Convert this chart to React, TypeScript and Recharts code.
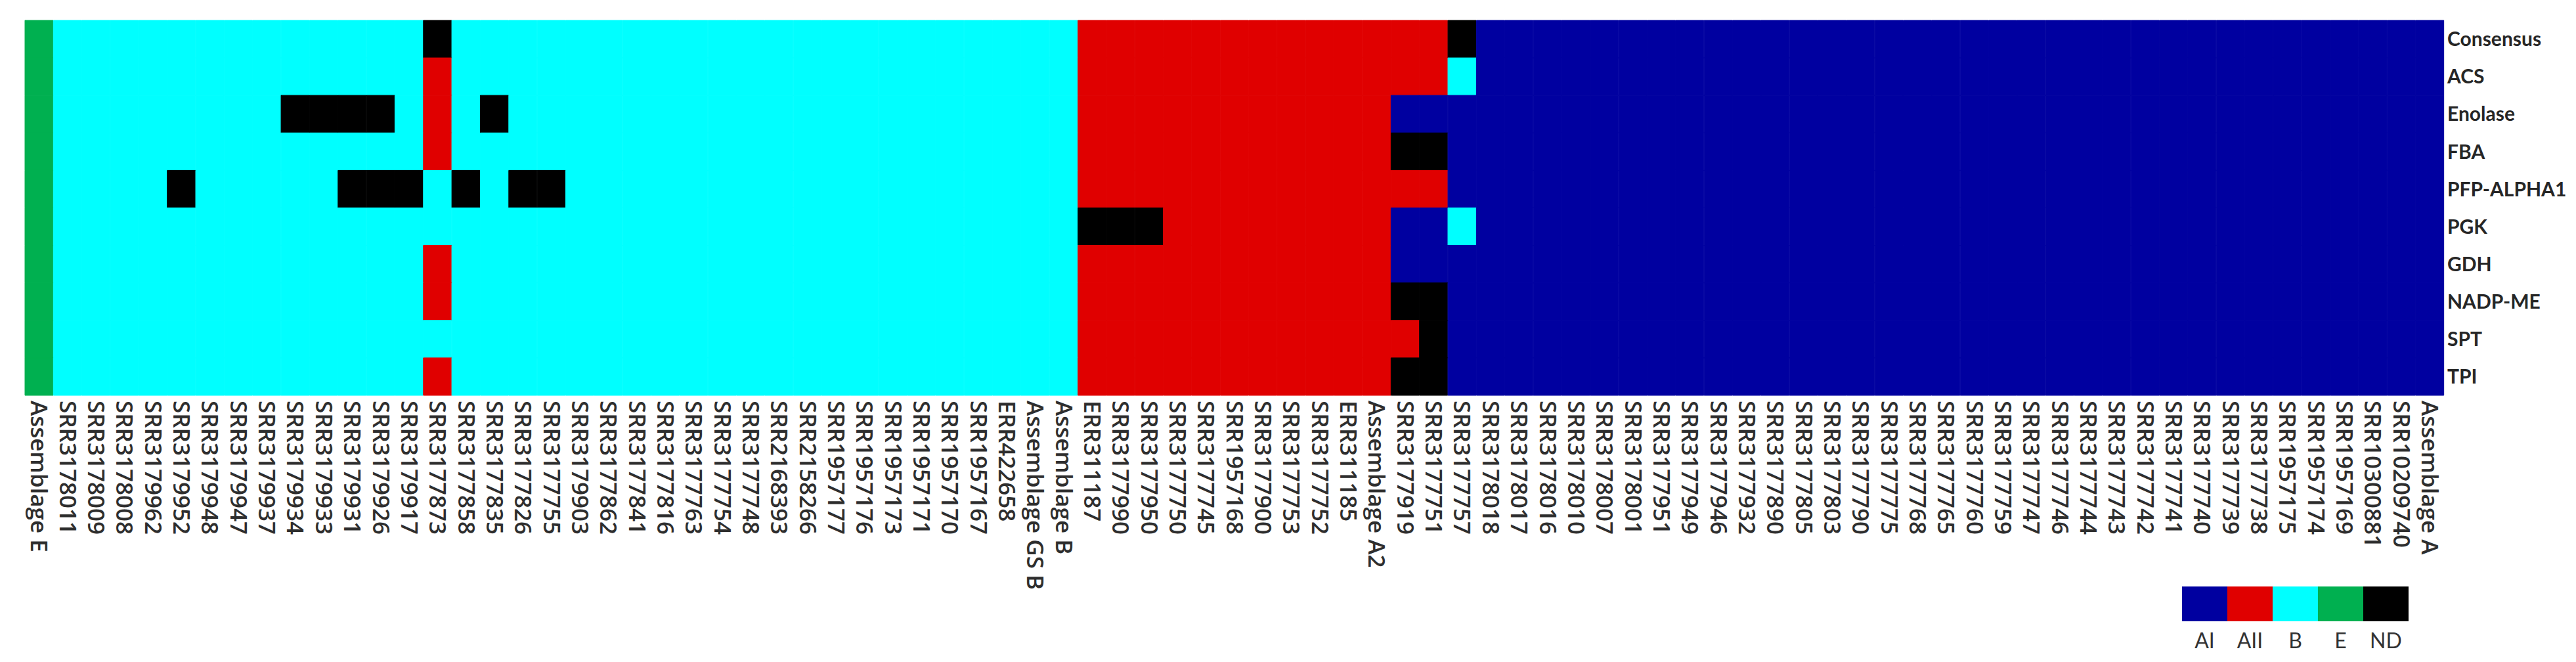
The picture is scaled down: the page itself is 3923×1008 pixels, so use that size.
import React from "react";
import { Bar, BarChart, Cell, Legend, XAxis, YAxis } from "recharts";

const samples = [
  "Assemblage E", "SRR3178011", "SRR3178009", "SRR3178008", "SRR3179962", "SRR3179952",
  "SRR3179948", "SRR3179947", "SRR3179937", "SRR3179934", "SRR3179933", "SRR3179931",
  "SRR3179926", "SRR3179917", "SRR3177873", "SRR3177858", "SRR3177835", "SRR3177826",
  "SRR3177755", "SRR3179903", "SRR3177862", "SRR3177841", "SRR3177816", "SRR3177763",
  "SRR3177754", "SRR3177748", "SRR2168393", "SRR2158266", "SRR1957177", "SRR1957176",
  "SRR1957173", "SRR1957171", "SRR1957170", "SRR1957167", "ERR422658", "Assemblage GS B",
  "Assemblage B", "ERR311187", "SRR3177990", "SRR3177950", "SRR3177750", "SRR3177745",
  "SRR1957168", "SRR3177900", "SRR3177753", "SRR3177752", "ERR311185", "Assemblage A2",
  "SRR3177919", "SRR3177751", "SRR3177757", "SRR3178018", "SRR3178017", "SRR3178016",
  "SRR3178010", "SRR3178007", "SRR3178001", "SRR3177951", "SRR3177949", "SRR3177946",
  "SRR3177932", "SRR3177890", "SRR3177805", "SRR3177803", "SRR3177790", "SRR3177775",
  "SRR3177768", "SRR3177765", "SRR3177760", "SRR3177759", "SRR3177747", "SRR3177746",
  "SRR3177744", "SRR3177743", "SRR3177742", "SRR3177741", "SRR3177740", "SRR3177739",
  "SRR3177738", "SRR1957175", "SRR1957174", "SRR1957169", "SRR10300881", "SRR10209740",
  "Assemblage A",
];

const genes = ["Consensus", "ACS", "Enolase", "FBA", "PFP-ALPHA1", "PGK", "GDH", "NADP-ME", "SPT", "TPI"];

// one letter per sample, blocks of 10: A = AI, R = AII, B, E, N = ND
const consensus = "EBBBBBBBBB BBBBNBBBBB BBBBBBBBBB BBBBBBBRRR RRRRRRRRRR NAAAAAAAAA AAAAAAAAAA AAAAAAAAAA AAAAA";
const acs       = "EBBBBBBBBB BBBBRBBBBB BBBBBBBBBB BBBBBBBRRR RRRRRRRRRR BAAAAAAAAA AAAAAAAAAA AAAAAAAAAA AAAAA";
const enolase   = "EBBBBBBBBN NNNBRBNBBB BBBBBBBBBB BBBBBBBRRR RRRRRRRRAA AAAAAAAAAA AAAAAAAAAA AAAAAAAAAA AAAAA";
const fba       = "EBBBBBBBBB BBBBRBBBBB BBBBBBBBBB BBBBBBBRRR RRRRRRRRNN AAAAAAAAAA AAAAAAAAAA AAAAAAAAAA AAAAA";
const pfp       = "EBBBBNBBBB BNNNBNBNNB BBBBBBBBBB BBBBBBBRRR RRRRRRRRRR AAAAAAAAAA AAAAAAAAAA AAAAAAAAAA AAAAA";
const pgk       = "EBBBBBBBBB BBBBBBBBBB BBBBBBBBBB BBBBBBBNNN RRRRRRRRAA BAAAAAAAAA AAAAAAAAAA AAAAAAAAAA AAAAA";
const gdh       = "EBBBBBBBBB BBBBRBBBBB BBBBBBBBBB BBBBBBBRRR RRRRRRRRAA AAAAAAAAAA AAAAAAAAAA AAAAAAAAAA AAAAA";
const nadpMe    = "EBBBBBBBBB BBBBRBBBBB BBBBBBBBBB BBBBBBBRRR RRRRRRRRNN AAAAAAAAAA AAAAAAAAAA AAAAAAAAAA AAAAA";
const spt       = "EBBBBBBBBB BBBBBBBBBB BBBBBBBBBB BBBBBBBRRR RRRRRRRRRN AAAAAAAAAA AAAAAAAAAA AAAAAAAAAA AAAAA";
const tpi       = "EBBBBBBBBB BBBBRBBBBB BBBBBBBBBB BBBBBBBRRR RRRRRRRRNN AAAAAAAAAA AAAAAAAAAA AAAAAAAAAA AAAAA";

const calls = [consensus, acs, enolase, fba, pfp, pgk, gdh, nadpMe, spt, tpi].map((s) =>
  s.replace(/ /g, "").split("")
);

const assemblages = ["AI", "AII", "B", "E", "ND"];
const codes = ["A", "R", "B", "E", "N"];
const colors: Record<string, string> = {
  A: "#0000A0",
  R: "#E00000",
  B: "#00FFFF",
  E: "#00B050",
  N: "#000000",
};

// each cell is one unit of a stacked bar
const data = samples.map((name) => {
  const row: Record<string, string | number> = { name };
  genes.forEach((g) => (row[g] = 1));
  return row;
});

function SampleTick(props: any) {
  const { x, y, payload } = props;
  return (
    <text
      x={x}
      y={y}
      dy="0.35em"
      transform={`rotate(90, ${x}, ${y})`}
      textAnchor="start"
      fill="#2e2e2e"
      fontFamily="'Open Sans', sans-serif"
      fontWeight={600}
      fontSize={35}
    >
      {payload.value}
    </text>
  );
}

function KeyBoxes() {
  return (
    <div style={{ display: "flex" }}>
      {assemblages.map((a, i) => (
        <div key={a} style={{ width: 69, textAlign: "center" }}>
          <div style={{ height: 53, background: colors[codes[i]] }} />
          <div
            style={{
              marginTop: 13,
              fontFamily: "Lato, sans-serif",
              fontSize: 32,
              lineHeight: "32px",
              color: "#333",
            }}
          >
            {a}
          </div>
        </div>
      ))}
    </div>
  );
}

export default function App() {
  return (
    <div style={{ width: 3907, height: 990 }}>
      <BarChart
        width={3907}
        height={990}
        data={data}
        margin={{ top: 23, left: 30, right: 0, bottom: 0 }}
        barCategoryGap={0}
        barGap={0}
      >
        <XAxis
          dataKey="name"
          interval={0}
          height={396}
          tickSize={0}
          tickMargin={8}
          axisLine={false}
          tick={<SampleTick />}
        />
        <YAxis
          type="number"
          orientation="right"
          width={193}
          domain={[0, 10]}
          reversed
          ticks={genes.map((_, i) => i + 0.5)}
          tickFormatter={(v: number) => genes[Math.floor(v)]}
          interval={0}
          tickSize={0}
          tickMargin={5}
          axisLine={false}
          tick={{ fill: "#262626", fontFamily: "Lato, sans-serif", fontWeight: 700, fontSize: 30 }}
        />
        {genes.map((g, i) => (
          <Bar key={g} dataKey={g} stackId="cells" isAnimationActive={false}>
            {calls[i].map((c, j) => (
              <Cell key={j} fill={colors[c]} stroke={colors[c]} strokeWidth={1} />
            ))}
          </Bar>
        ))}
        <Legend
          layout="horizontal"
          verticalAlign="middle"
          wrapperStyle={{ left: 3315, top: 885, width: 345 }}
          content={<KeyBoxes />}
        />
      </BarChart>
    </div>
  );
}
